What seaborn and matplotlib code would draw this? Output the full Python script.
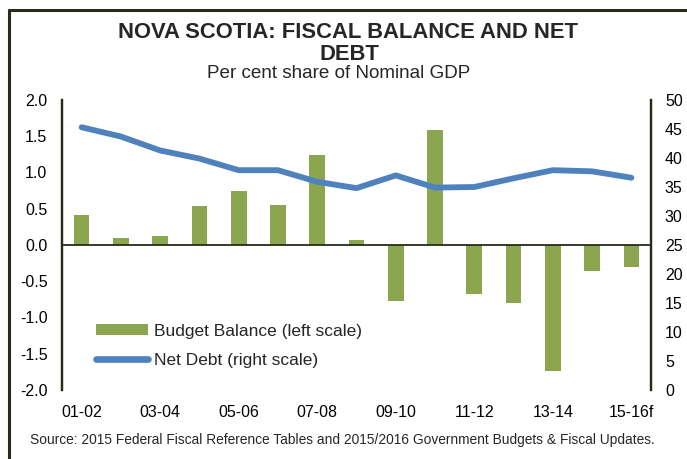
import numpy as np
import pandas as pd
import matplotlib
matplotlib.use("Agg")
import matplotlib.pyplot as plt
from matplotlib.lines import Line2D
from matplotlib.patches import Patch
import seaborn as sns

# Fiscal years
years = ["01-02", "02-03", "03-04", "04-05", "05-06", "06-07", "07-08", "08-09",
         "09-10", "10-11", "11-12", "12-13", "13-14", "14-15", "15-16f"]
# Budget balance, % of nominal GDP (left scale)
budget_balance = [0.42, 0.10, 0.13, 0.54, 0.74, 0.55, 1.24, 0.07,
                  -0.77, 1.58, -0.68, -0.80, -1.74, -0.36, -0.30]
# Net debt, % of nominal GDP (right scale)
net_debt = [45.3, 43.7, 41.3, 39.9, 37.9, 37.9, 35.9, 34.8,
            37.0, 34.9, 35.0, 36.5, 37.9, 37.7, 36.6]
left_ticks = [-2.0, -1.5, -1.0, -0.5, 0.0, 0.5, 1.0, 1.5, 2.0]
right_ticks = list(range(0, 55, 5))
shown_years = years[::2]

df = pd.DataFrame({"year": years, "balance": budget_balance, "debt": net_debt})

sns.set_theme(style="white")
plt.rcParams["font.family"] = ["Liberation Sans", "DejaVu Sans"]

GREEN = "#8ba64f"
BLUE = "#4f81bd"
DARK = "#262b1a"

fig = plt.figure(figsize=(6.87, 4.59), dpi=100)
ax = fig.add_axes([62 / 687, 1 - 390 / 459, (651 - 62) / 687, (390 - 100) / 459])

sns.barplot(data=df, x="year", y="balance", color=GREEN, saturation=1,
            width=0.4, ax=ax, edgecolor="none")
ax.set_ylim(-2, 2)
ax.set_xlim(-0.5, len(years) - 0.5)
ax.set_yticks(left_ticks)
ax.set_yticklabels([f"{t:.1f}" for t in left_ticks])
ax.set_xticks(range(0, len(years), 2))
ax.set_xticklabels(shown_years)
ax.set_xlabel("")
ax.set_ylabel("")
ax.axhline(0, color=DARK, lw=1.3, zorder=3)
ax.tick_params(axis="both", length=0, labelsize=11.5, colors="black")
ax.tick_params(axis="x", pad=11)
ax.tick_params(axis="y", pad=10.5)

ax2 = ax.twinx()
sns.lineplot(data=df, x="year", y="debt", color=BLUE, lw=4.2, sort=False, ax=ax2)
ax2.set_ylim(0, 50)
ax2.set_yticks(right_ticks)
ax2.set_ylabel("")
ax2.tick_params(axis="y", length=0, labelsize=11.5, pad=10, colors="black")

for a in (ax, ax2):
    for side in ("top", "bottom"):
        a.spines[side].set_visible(False)
    for side in ("left", "right"):
        a.spines[side].set_color(DARK)
        a.spines[side].set_linewidth(1.6)

handles = [Patch(facecolor=GREEN, edgecolor="none"),
           Line2D([0], [0], color=BLUE, lw=4.8)]
ax2.legend(handles, ["Budget Balance (left scale)", "Net Debt (right scale)"],
           loc="center left", bbox_to_anchor=(0.057, 0.152), frameon=False,
           fontsize=12.5, handlelength=3.0, handleheight=0.6, handletextpad=0.35,
           labelspacing=0.85, borderaxespad=0, borderpad=0)

fig.text(0.507, 1 - 33 / 459, "NOVA SCOTIA: FISCAL BALANCE AND NET",
         ha="center", va="center", fontsize=15.8, fontweight="bold")
fig.text(0.508, 1 - 54 / 459, "DEBT", ha="center", va="center",
         fontsize=15.8, fontweight="bold")
fig.text(0.493, 1 - 73 / 459, "Per cent share of Nominal GDP", ha="center",
         va="center", fontsize=13.6)
fig.text(0.4985, 1 - 440 / 459,
         "Source: 2015 Federal Fiscal Reference Tables and 2015/2016 Government Budgets & Fiscal Updates.",
         ha="center", va="center", fontsize=9.9)

# Frame along the top and left edges of the figure
fig.add_artist(Line2D([9 / 687, 9 / 687], [0, 1 - 9.5 / 459], color=DARK, lw=2.2,
                      transform=fig.transFigure))
fig.add_artist(Line2D([9 / 687, 1], [1 - 9.5 / 459, 1 - 9.5 / 459], color=DARK,
                      lw=2.2, transform=fig.transFigure))

fig.savefig("out.png", dpi=100)
